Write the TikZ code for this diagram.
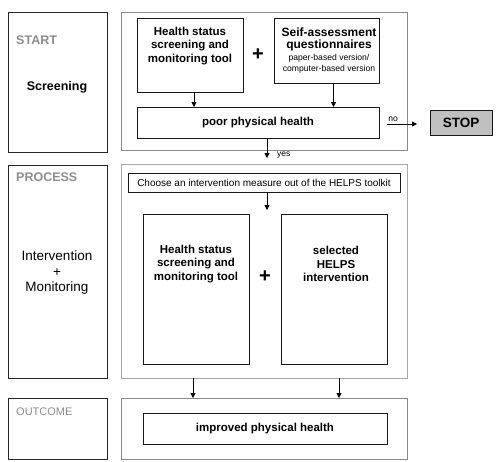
\documentclass[tikz,border=0pt]{standalone}
\usepackage{fontspec}
\setmainfont{Liberation Sans}
\usetikzlibrary{calc,arrows.meta}
\definecolor{lbl}{HTML}{8C8C8C}
\definecolor{pnl}{HTML}{8A8A8A}
\definecolor{pnlb}{HTML}{A8A8A8}
\definecolor{stopfill}{HTML}{C0C0C0}
\begin{document}
\begin{tikzpicture}[x=1pt,y=-1pt,
  rect/.style n args={2}{minimum width=#1pt, minimum height=#2pt, anchor=north west, inner sep=0pt, outer sep=0pt},
  panelL/.style={draw=black!85, line width=0.85pt},
  panelR/.style={draw=pnl, line width=0.8pt},
  boxx/.style={draw=black!90, line width=0.85pt},
  arr/.style={line width=0.8pt, -{Triangle[length=5pt,width=5pt]}},
  bt/.style={font=\fontsize{11.5}{13.7}\selectfont\bfseries, align=center, inner sep=0pt},
  lab/.style={font=\fontsize{12.5}{14}\selectfont\bfseries, text=lbl, anchor=west, inner sep=0pt},
  small/.style={font=\fontsize{8.5}{9}\selectfont, inner sep=0pt},
  plus/.style={font=\fontsize{20}{20}\selectfont\bfseries, inner sep=0pt}]
\useasboundingbox (0,0) rectangle (500,461);
% left panels
\node[panelL, rect={99}{140}] (startL) at (8,12) {};
\node[panelL, rect={99}{213}] (procL) at (8,165) {};
\node[panelL, rect={99}{61}] (outL) at (8,398) {};
% right panels
\node[panelR, rect={286}{138}] (startR) at (121,12) {};
\node[panelR, draw=pnlb, rect={286}{214}] (procR) at (121,164) {};
\node[panelR, rect={286}{61}] (outR) at (121,398) {};
% left texts
\node[lab] (startT) at (16,40) {START};
\node[font=\fontsize{12.5}{15}\selectfont\bfseries, inner sep=0pt] (screenT) at (57,87) {Screening};
\node[lab] (procT) at (16,177) {PROCESS};
\node[align=center, font=\fontsize{13.5}{15.5}\selectfont, inner sep=0pt] (imT) at (57,273) {Intervention\\+\\Monitoring};
\node[lab, font=\fontsize{11}{13}\selectfont] (outT) at (16,412) {OUTCOME};
% screening boxes
\node[boxx, rect={106}{74}] (hs1) at (137,18) {};
\node[bt] (hs1T) at (190,46) {Health status\\screening and\\monitoring tool};
\node[plus] (plus1) at (258,55) {+};
\node[boxx, rect={105}{65}] (sa) at (274,18) {};
\node[align=center, inner sep=0pt, font=\fontsize{12}{12.7}\selectfont\bfseries] (saT) at (329,39.5) {Seif-assessment\\questionnaires};
\node[align=center, inner sep=0pt, font=\fontsize{8.6}{10.7}\selectfont] (saS) at (329,64) {paper-based version/\\computer-based version};
\node[boxx, rect={242}{31}, font=\fontsize{11.5}{13}\selectfont\bfseries] (poor) at (137,107) {poor physical health};
\node[boxx, fill=stopfill, rect={62}{25}, font=\fontsize{13.5}{15}\selectfont\bfseries] (stop) at (430,110) {STOP};
\draw[arr] ($(hs1.south)+(4,0)$) -- ($(hs1.south |- poor.north)+(4,0)$);
\draw[arr] ($(sa.south)+(7,0)$) -- ($(sa.south |- poor.north)+(7,0)$);
\coordinate (noA) at ($(poor.east)+(8,1.5)$);
\coordinate (noB) at ($(stop.west)+(-13,1.5)$);
\draw[arr] (noA) -- (noB) node[small, pos=0.2, above=2pt] (noT) {no};
\coordinate (yesA) at ($(poor.south)+(9,0)$);
\coordinate (yesB) at ($(yesA)+(0,20)$);
\draw[arr] (yesA) -- (yesB);
\node[small, anchor=west] (yesT) at ($(yesB)+(10,-3)$) {yes};
% process boxes
\node[boxx, rect={272}{19}, font=\fontsize{10}{11}\selectfont] (choose) at (128,173) {Choose an intervention measure out of the HELPS toolkit};
\coordinate (chB) at ($(choose.south)+(3,18)$);
\draw[arr] ($(choose.south)+(3,0)$) -- (chB);
\node[boxx, rect={106}{150}] (hs2) at (143,214) {};
\node[bt] (hs2T) at (196,264) {Health status\\screening and\\monitoring tool};
\node[plus] (plus2) at (265,277) {+};
\node[boxx, rect={106}{150}] (helps) at (281,214) {};
\node[bt] (helpsT) at (336,264) {selected\\HELPS\\intervention};
% outcome
\node[boxx, rect={244}{31}, font=\fontsize{11.5}{13}\selectfont\bfseries] (impr) at (143,413) {improved physical health};
\draw[arr] ($(hs2.south |- procR.south)+(-3,0)$) -- ($(hs2.south |- outR.north)+(-3,0)$);
\draw[arr] ($(helps.south |- procR.south)+(5,0)$) -- ($(helps.south |- outR.north)+(5,0)$);
\end{tikzpicture}
\end{document}
